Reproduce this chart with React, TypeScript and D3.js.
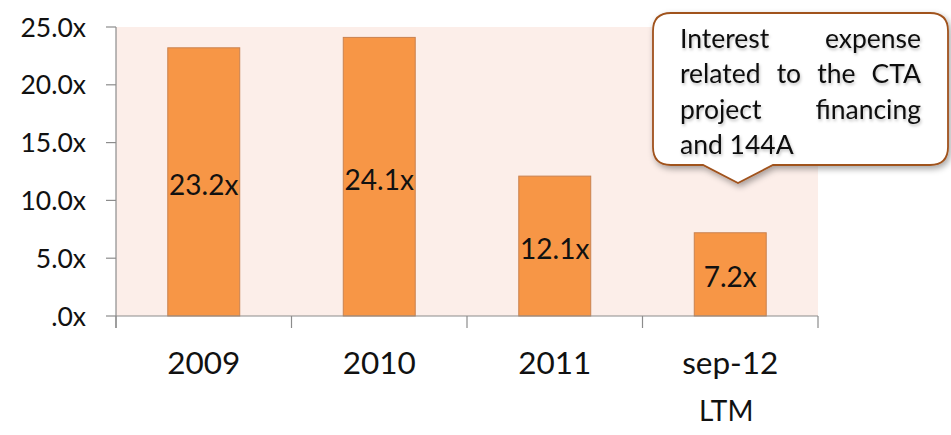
import React from "react";
import * as d3 from "d3";

const categories = ["2009", "2010", "2011", "sep-12"];
const subLabels = ["", "", "", "LTM"];
const values = [23.2, 24.1, 12.1, 7.2];
const yTicks = [0, 5, 10, 15, 20, 25];
const calloutLines = ["Interest expense", "related to the CTA", "project financing", "and 144A"];

const W = 951;
const H = 435;
const FONT = "Lato, 'Open Sans', sans-serif";

function measure(text: string, font: string): number {
  const c = document.createElement("canvas").getContext("2d");
  if (!c) return text.length * 10;
  c.font = font;
  return c.measureText(text).width;
}

function fmt(v: number) {
  return v === 0 ? ".0x" : v.toFixed(1) + "x";
}

export default function App() {
  const left = 116, right = 818, top = 27, bottom = 316;
  const x = d3.scaleBand<string>().domain(categories).range([left, right]).paddingInner(0.59).paddingOuter(0.295);
  const y = d3.scaleLinear().domain([0, 25]).range([bottom, top]);

  const cx0 = 653, cx1 = 948, cy0 = 13, cy1 = 165, r = 18;
  const pb0 = 703, pb1 = 773, ptx = 738, pty = 183;
  const calloutPath = [
    `M${cx0 + r},${cy0}`,
    `L${cx1 - r},${cy0}`,
    `Q${cx1},${cy0} ${cx1},${cy0 + r}`,
    `L${cx1},${cy1 - r}`,
    `Q${cx1},${cy1} ${cx1 - r},${cy1}`,
    `L${pb1},${cy1}`,
    `L${ptx},${pty}`,
    `L${pb0},${cy1}`,
    `L${cx0 + r},${cy1}`,
    `Q${cx0},${cy1} ${cx0},${cy1 - r}`,
    `L${cx0},${cy0 + r}`,
    `Q${cx0},${cy0} ${cx0 + r},${cy0}`,
    "Z",
  ].join(" ");

  const textL = 680, textR = 921, fs = 26.5, baseline0 = 48, lh = 35.3;
  const fontStr = `${fs}px Lato`;
  const wordEls: React.ReactNode[] = [];
  calloutLines.forEach((line, li) => {
    const words = line.split(" ");
    const yy = baseline0 + li * lh;
    const last = li === calloutLines.length - 1;
    if (last || words.length === 1) {
      wordEls.push(
        <text key={`l${li}`} x={textL} y={yy} fontSize={fs} fontFamily={FONT} fill="#111" filter="url(#tsh)">
          {line}
        </text>
      );
      return;
    }
    const widths = words.map((w) => measure(w, fontStr));
    const total = widths.reduce((a, b) => a + b, 0);
    const gap = (textR - textL - total) / (words.length - 1);
    let pos = textL;
    words.forEach((w, wi) => {
      wordEls.push(
        <text key={`l${li}w${wi}`} x={pos} y={yy} fontSize={fs} fontFamily={FONT} fill="#111" filter="url(#tsh)">
          {w}
        </text>
      );
      pos += widths[wi] + gap;
    });
  });

  const boundaries = [left, ...categories.map((c) => (x(c) as number) - (x.step() - x.bandwidth()) / 2 + x.step())];

  return (
    <svg width={W} height={H} style={{ position: "absolute", left: 0, top: 0, background: "#fff" }}>
      <defs>
        <filter id="sh" x="-20%" y="-20%" width="140%" height="150%">
          <feDropShadow dx="2" dy="3" stdDeviation="3" floodColor="#000" floodOpacity="0.35" />
        </filter>
        <filter id="tsh" x="-20%" y="-40%" width="140%" height="180%">
          <feDropShadow dx="1" dy="2" stdDeviation="1.5" floodColor="#000" floodOpacity="0.25" />
        </filter>
      </defs>
      <rect x={left} y={top} width={right - left} height={bottom - top} fill="#FCEEE9" />
      {categories.map((c, i) => (
        <rect
          key={c}
          x={x(c)}
          y={y(values[i])}
          width={x.bandwidth()}
          height={bottom - y(values[i])}
          fill="#F79646"
          stroke="#C98250"
          strokeWidth={1}
        />
      ))}
      <line x1={left} x2={left} y1={top} y2={bottom + 12} stroke="#8c8c8c" strokeWidth={1.2} />
      <line x1={left} x2={right} y1={bottom} y2={bottom} stroke="#8c8c8c" strokeWidth={1.2} />
      {yTicks.map((t) => (
        <g key={t}>
          <line x1={left - 10} x2={left} y1={y(t)} y2={y(t)} stroke="#8c8c8c" strokeWidth={1.2} />
          <text x={86} y={y(t)} dy="0.36em" textAnchor="end" fontSize={26.5} fontFamily={FONT} fill="#111">
            {fmt(t)}
          </text>
        </g>
      ))}
      {boundaries.map((b, i) => (
        <line key={i} x1={b} x2={b} y1={bottom} y2={bottom + 12} stroke="#8c8c8c" strokeWidth={1.2} />
      ))}
      {categories.map((c, i) => (
        <g key={c}>
          <text
            x={(x(c) as number) + x.bandwidth() / 2}
            y={374}
            textAnchor="middle"
            fontSize={31.5}
            fontFamily={FONT}
            fill="#111"
          >
            {c}
          </text>
          {subLabels[i] && (
            <text
              x={(x(c) as number) + x.bandwidth() / 2 - 4}
              y={421}
              textAnchor="middle"
              fontSize={28}
              fontFamily={FONT}
              fill="#111"
            >
              {subLabels[i]}
            </text>
          )}
          <text
            x={(x(c) as number) + x.bandwidth() / 2}
            y={(y(values[i]) + bottom) / 2 + 3}
            dy="0.36em"
            textAnchor="middle"
            fontSize={28}
            fontFamily={FONT}
            fill="#111"
          >
            {fmt(values[i])}
          </text>
        </g>
      ))}
      <path d={calloutPath} fill="#fff" stroke="#A0521C" strokeWidth={1.8} filter="url(#sh)" />
      {wordEls}
    </svg>
  );
}
